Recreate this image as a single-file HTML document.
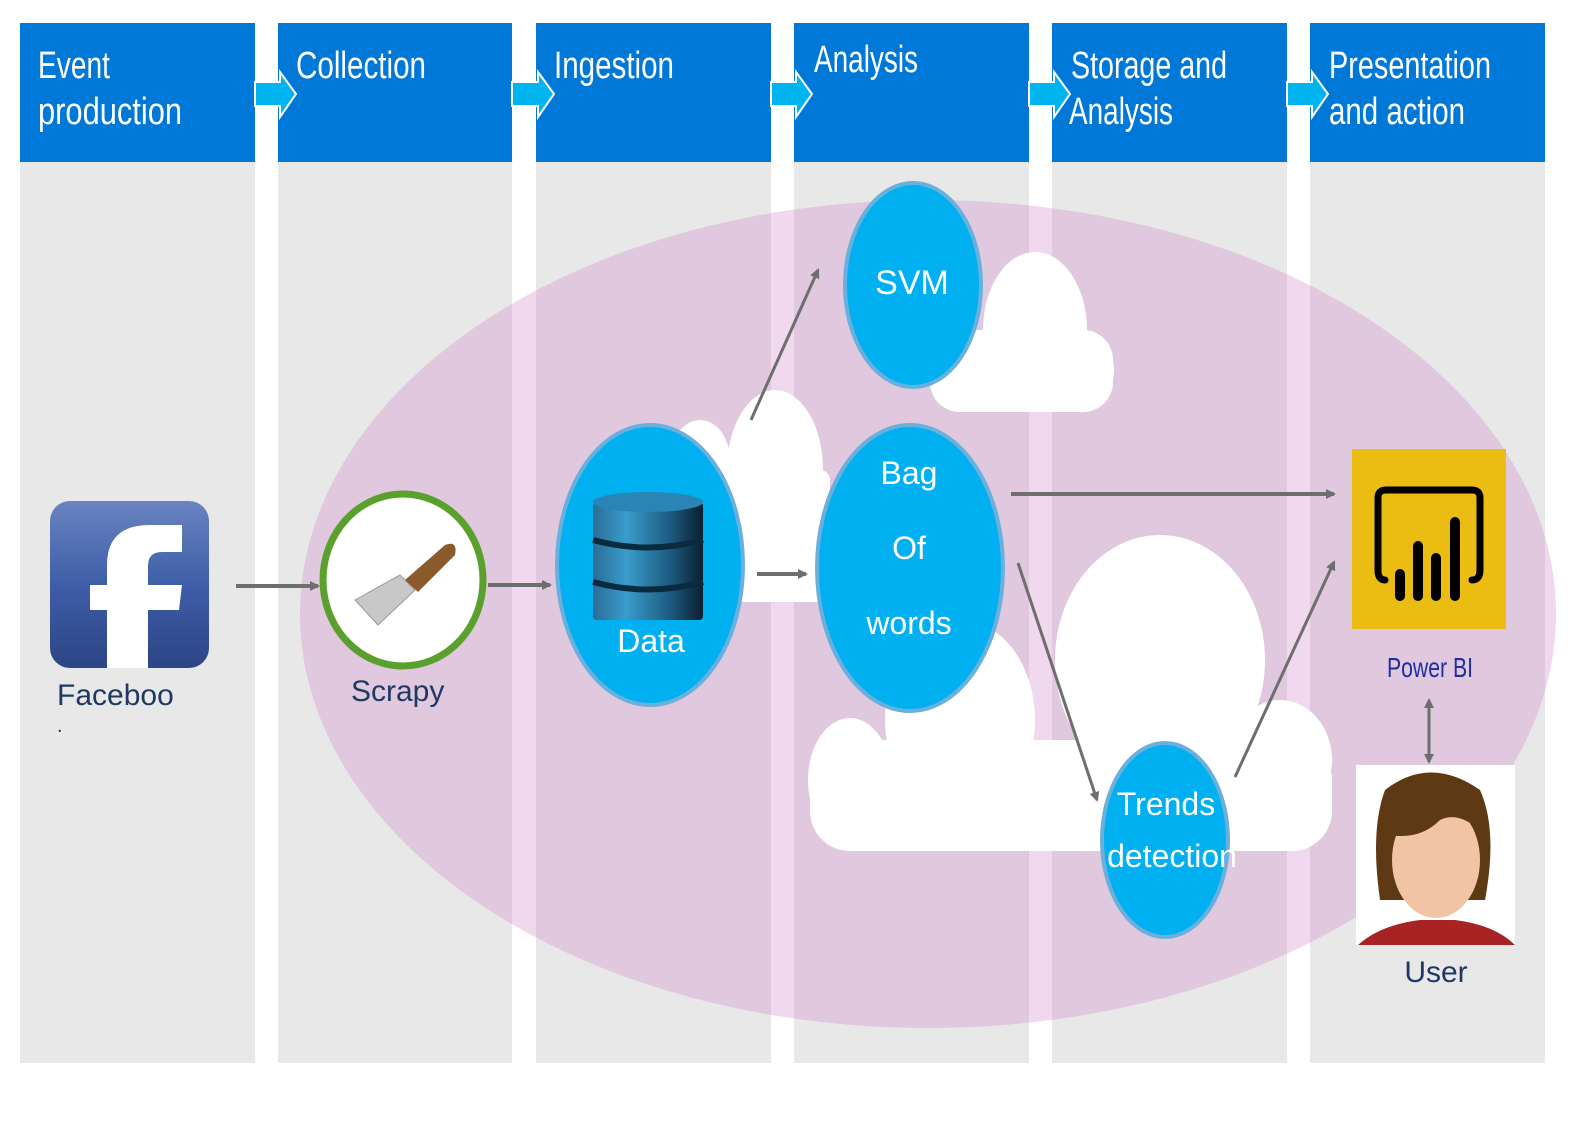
<!DOCTYPE html>
<html><head><meta charset="utf-8"><style>
html,body{margin:0;padding:0;background:#fff}
svg{display:block}
text{font-family:"Liberation Sans","DejaVu Sans",sans-serif}
</style></head><body>
<svg width="1594" height="1145" viewBox="0 0 1594 1145" xmlns="http://www.w3.org/2000/svg">
<defs>
<marker id="ah" markerWidth="10" markerHeight="10" refX="8" refY="5" orient="auto" markerUnits="userSpaceOnUse">
<path d="M0,0 L10,5 L0,10 z" fill="#6e6e6e"/></marker>
<marker id="ahs" markerWidth="10" markerHeight="10" refX="2" refY="5" orient="auto" markerUnits="userSpaceOnUse">
<path d="M10,0 L0,5 L10,10 z" fill="#6e6e6e"/></marker>
<linearGradient id="db" x1="0" x2="1" y1="0" y2="0">
<stop offset="0" stop-color="#2a6d95"/><stop offset="0.3" stop-color="#3a9ccc"/><stop offset="0.7" stop-color="#1d5b80"/><stop offset="1" stop-color="#0a1f30"/></linearGradient>
<linearGradient id="fb" x1="0" x2="0" y1="0" y2="1">
<stop offset="0" stop-color="#6a84c0"/><stop offset="0.5" stop-color="#3f5ea8"/><stop offset="1" stop-color="#2c4585"/></linearGradient>
</defs>
<!-- columns -->
<g>
<rect x="20" y="23" width="235" height="1040" fill="#e8e8e8"/>
<rect x="278" y="23" width="234" height="1040" fill="#e8e8e8"/>
<rect x="536" y="23" width="235" height="1040" fill="#e8e8e8"/>
<rect x="794" y="23" width="235" height="1040" fill="#e8e8e8"/>
<rect x="1052" y="23" width="235" height="1040" fill="#e8e8e8"/>
<rect x="1310" y="23" width="235" height="1040" fill="#e8e8e8"/>
</g>
<!-- big ellipse -->
<ellipse cx="928" cy="614" rx="628" ry="414" fill="rgba(205,125,200,0.3)"/>
<!-- headers -->
<g fill="#0078d7">
<rect x="20" y="23" width="235" height="139"/>
<rect x="278" y="23" width="234" height="139"/>
<rect x="536" y="23" width="235" height="139"/>
<rect x="794" y="23" width="235" height="139"/>
<rect x="1052" y="23" width="235" height="139"/>
<rect x="1310" y="23" width="235" height="139"/>
</g>
<g fill="#00b4ef" stroke="#fff" stroke-width="2">
<path d="M255,82 L280,82 L280,72 L296,94 L280,117 L280,106 L255,106 z"/>
<path d="M512,82 L538,82 L538,72 L554,94 L538,117 L538,106 L512,106 z"/>
<path d="M771,82 L796,82 L796,72 L812,94 L796,117 L796,106 L771,106 z"/>
<path d="M1029,82 L1054,82 L1054,72 L1070,94 L1054,117 L1054,106 L1029,106 z"/>
<path d="M1287,82 L1312,82 L1312,72 L1328,94 L1312,117 L1312,106 L1287,106 z"/>
</g>
<g fill="#fff" font-size="38">
<text x="38" y="78" textLength="72" lengthAdjust="spacingAndGlyphs">Event</text>
<text x="38" y="124" textLength="144" lengthAdjust="spacingAndGlyphs">production</text>
<text x="296" y="78" textLength="130" lengthAdjust="spacingAndGlyphs">Collection</text>
<text x="554" y="78" textLength="120" lengthAdjust="spacingAndGlyphs">Ingestion</text>
<text x="814" y="72" textLength="104" lengthAdjust="spacingAndGlyphs">Analysis</text>
<text x="1071" y="78" textLength="156" lengthAdjust="spacingAndGlyphs">Storage and</text>
<text x="1069" y="124" textLength="104" lengthAdjust="spacingAndGlyphs">Analysis</text>
<text x="1329" y="78" textLength="162" lengthAdjust="spacingAndGlyphs">Presentation</text>
<text x="1329" y="124" textLength="136" lengthAdjust="spacingAndGlyphs">and action</text>
</g>
<!-- clouds -->
<g fill="#fff">
<ellipse cx="1035" cy="330" rx="52" ry="78"/>
<ellipse cx="1070" cy="370" rx="44" ry="42"/>
<rect x="930" y="330" width="183" height="82" rx="30"/>
<ellipse cx="775" cy="470" rx="48" ry="80"/>
<ellipse cx="700" cy="460" rx="30" ry="40"/>
<rect x="680" y="470" width="150" height="132" rx="10"/>
<ellipse cx="1160" cy="660" rx="105" ry="125"/>
<ellipse cx="960" cy="720" rx="75" ry="100"/>
<ellipse cx="850" cy="780" rx="42" ry="62"/>
<ellipse cx="1280" cy="760" rx="52" ry="60"/>
<rect x="810" y="740" width="522" height="111" rx="40"/>
</g>
<!-- Facebook -->
<rect x="50" y="501" width="159" height="167" rx="20" fill="url(#fb)"/>
<path d="M107,668 L107,610 L90,610 L90,585 L107,585 L107,565 Q107,525 150,525 L182,525 L182,552 L162,552 Q148,552 148,566 L148,585 L182,585 L179,610 L148,610 L148,668 z" fill="#fff"/>
<text x="57" y="705" font-size="30" fill="#1f3864">Faceboo</text>
<text x="57" y="732" font-size="20" fill="#1f3864">.</text>
<!-- Scrapy -->
<ellipse cx="403" cy="580" rx="80" ry="86" fill="#fff" stroke="#5aa02c" stroke-width="7"/>
<path d="M355,600 L400,575 L415,590 L378,625 z" fill="#c8c8c8" stroke="#999" stroke-width="1"/>
<path d="M405,580 L445,545 Q458,540 455,555 L418,592 z" fill="#8b5a2b"/>
<text x="351" y="701" font-size="30" fill="#1f3864">Scrapy</text>
<!-- Data -->
<ellipse cx="650" cy="565" rx="93" ry="140" fill="#00b0f0" stroke="#6ab0dc" stroke-width="4"/>
<g>
<rect x="593" y="502" width="110" height="118" rx="4" fill="url(#db)"/>
<ellipse cx="648" cy="502" rx="55" ry="10" fill="#2a84b5"/>
<path d="M593,540 Q648,555 703,540" stroke="#0a2a40" stroke-width="6" fill="none"/>
<path d="M593,582 Q648,597 703,582" stroke="#0a2a40" stroke-width="6" fill="none"/>
</g>
<text x="651" y="652" font-size="32" fill="#fff" text-anchor="middle">Data</text>
<!-- SVM -->
<ellipse cx="913" cy="285" rx="68" ry="102" fill="#00b0f0" stroke="#6ab0dc" stroke-width="4"/>
<text x="912" y="294" font-size="34" fill="#fff" text-anchor="middle">SVM</text>
<!-- Bag of words -->
<ellipse cx="910" cy="568" rx="93" ry="143" fill="#00b0f0" stroke="#6ab0dc" stroke-width="4"/>
<g font-size="32" fill="#fff" text-anchor="middle">
<text x="909" y="484">Bag</text>
<text x="909" y="559">Of</text>
<text x="909" y="634">words</text>
</g>
<!-- Trends -->
<ellipse cx="1165" cy="840" rx="63" ry="97" fill="#00b0f0" stroke="#6ab0dc" stroke-width="4"/>
<g font-size="32" fill="#fff" text-anchor="middle">
<text x="1166" y="815">Trends</text>
<text x="1172" y="867">detection</text>
</g>
<!-- Power BI -->
<rect x="1352" y="449" width="154" height="180" fill="#ebbd12"/>
<g stroke="#000" stroke-linecap="round" fill="none">
<path d="M1385,580 Q1378,580 1378,570 L1378,498 Q1378,490 1386,490 L1472,490 Q1480,490 1480,498 L1480,570 Q1480,580 1472,580" stroke-width="7"/>
<line x1="1400" y1="574" x2="1400" y2="596" stroke-width="10"/>
<line x1="1418" y1="546" x2="1418" y2="596" stroke-width="10"/>
<line x1="1436" y1="558" x2="1436" y2="596" stroke-width="10"/>
<line x1="1455" y1="522" x2="1455" y2="596" stroke-width="10"/>
</g>
<text x="1430" y="677" font-size="28" fill="#1f2fa0" text-anchor="middle" textLength="86" lengthAdjust="spacingAndGlyphs">Power BI</text>
<!-- User -->
<rect x="1356" y="765" width="159" height="180" fill="#fff"/>
<path d="M1380,900 Q1370,830 1385,790 Q1430,755 1480,790 Q1498,830 1485,900 z" fill="#5e3a14"/>
<ellipse cx="1436" cy="860" rx="44" ry="58" fill="#f0c4a4"/>
<path d="M1390,835 Q1400,790 1440,790 Q1470,800 1485,835 Q1460,810 1440,820 Q1420,840 1390,835 z" fill="#5e3a14"/>
<path d="M1358,945 Q1380,925 1420,920 L1455,920 Q1495,925 1515,945 z" fill="#a82424"/>
<text x="1436" y="982" font-size="30" fill="#1f3864" text-anchor="middle">User</text>
<!-- arrows -->
<g stroke="#6e6e6e" stroke-width="4" fill="none">
<line x1="236" y1="586" x2="318" y2="586" marker-end="url(#ah)"/>
<line x1="488" y1="585" x2="550" y2="585" marker-end="url(#ah)"/>
<line x1="757" y1="574" x2="806" y2="574" marker-end="url(#ah)"/>
<line x1="751" y1="420" x2="818" y2="270" stroke-width="3" marker-end="url(#ah)"/>
<line x1="1011" y1="494" x2="1334" y2="494" marker-end="url(#ah)"/>
<line x1="1018" y1="563" x2="1097" y2="800" stroke-width="3" marker-end="url(#ah)"/>
<line x1="1235" y1="777" x2="1334" y2="562" stroke-width="3" marker-end="url(#ah)"/>
<line x1="1429" y1="700" x2="1429" y2="762" stroke-width="3" marker-start="url(#ahs)" marker-end="url(#ah)"/>
</g>
</svg>
</body></html>
